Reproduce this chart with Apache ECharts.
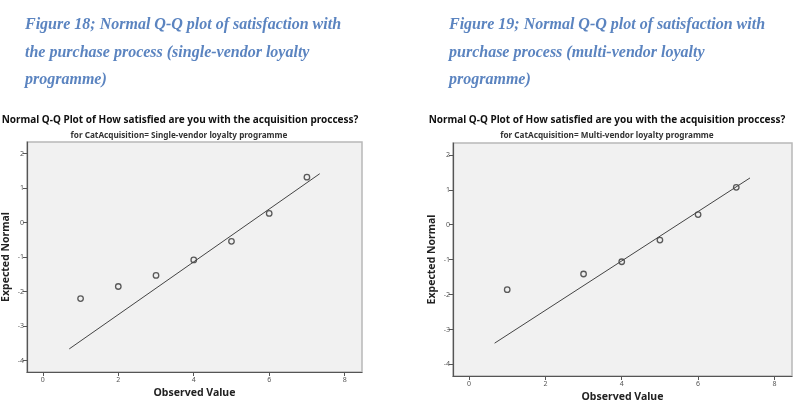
<!DOCTYPE html>
<html><head><meta charset="utf-8">
<script src="https://cdn.jsdelivr.net/npm/echarts@6/dist/echarts.min.js"></script>
<style>html,body{margin:0;padding:0;background:#fff}#c{width:797px;height:412px}</style>
</head><body><div id="c"></div>
<script>
// Data
const xTickValues = [0, 2, 4, 6, 8];
const yTickValues = [-4, -3, -2, -1, 0, 1, 2];
const singleObserved = [1, 2, 3, 4, 5, 6, 7];
const singleExpected = [-2.2, -1.85, -1.53, -1.08, -0.54, 0.27, 1.32];
const singleLineX = [0.70, 7.34];
const singleLineY = [-3.66, 1.42];
const multiObserved = [1, 3, 4, 5, 6, 7];
const multiExpected = [-1.86, -1.41, -1.06, -0.44, 0.29, 1.07];
const multiLineX = [0.67, 7.36];
const multiLineY = [-3.39, 1.34];
const captionLeft = ["Figure 18; Normal Q-Q plot of satisfaction with", "the purchase process (single-vendor loyalty", "programme)"];
const captionRight = ["Figure 19; Normal Q-Q plot of satisfaction with", "purchase process (multi-vendor loyalty", "programme)"];
const chartTitle = "Normal Q-Q Plot of How satisfied are you with the acquisition proccess?";
const subLeft = "for CatAcquisition= Single-vendor loyalty programme";
const subRight = "for CatAcquisition= Multi-vendor loyalty programme";

const chart = echarts.init(document.getElementById('c'), null, {renderer: 'canvas'});
const pair = (xs, ys) => xs.map((x, i) => [x, ys[i]]);

const grids = [
  {left: 27, top: 142, width: 335, height: 230},
  {left: 453, top: 143, width: 339, height: 233}
];

function xAxis(gi) {
  return {
    type: 'value', gridIndex: gi, min: -0.42, max: 8.46,
    name: 'Observed Value', nameLocation: 'middle', nameGap: 16,
    nameTextStyle: {fontFamily: 'Noto Sans', fontWeight: 'bold', fontSize: 10.5, color: '#222'},
    axisLine: {show: true, onZero: false, lineStyle: {color: '#555', width: 1.2}},
    axisTick: {show: true, length: 4, lineStyle: {color: '#555'}, customValues: xTickValues},
    axisLabel: {fontFamily: 'Noto Sans', fontSize: 7, color: '#555', margin: 4, customValues: xTickValues},
    splitLine: {show: false}
  };
}
function yAxis(gi) {
  return {
    type: 'value', gridIndex: gi, min: -4.33, max: 2.34,
    name: 'Expected Normal', nameLocation: 'middle', nameGap: 15, nameRotate: 90,
    nameTextStyle: {fontFamily: 'Noto Sans', fontWeight: 'bold', fontSize: 10.5, color: '#222'},
    axisLine: {show: true, onZero: false, lineStyle: {color: '#555', width: 1.2}},
    axisTick: {show: true, length: 4, lineStyle: {color: '#555'}, customValues: yTickValues},
    axisLabel: {fontFamily: 'Noto Sans', fontSize: 7, color: '#555', margin: 3, customValues: yTickValues},
    splitLine: {show: false}
  };
}

const capStyle = {fontFamily: 'Liberation Serif', fontWeight: 'bold', fontStyle: 'italic', fontSize: 16, fill: '#5b84c0'};
const graphics = [];
captionLeft.forEach((t, i) => graphics.push({type: 'text', left: 25, top: 17 + i * 27.5, style: Object.assign({text: t}, capStyle)}));
captionRight.forEach((t, i) => graphics.push({type: 'text', left: 449, top: 17 + i * 27.5, style: Object.assign({text: t}, capStyle)}));
const titleStyle = {fontFamily: 'Noto Sans', fontWeight: 'bold', fontSize: 10, fill: '#111', align: 'center', verticalAlign: 'middle'};
const subStyle = {fontFamily: 'Noto Sans', fontWeight: 'bold', fontSize: 8.2, fill: '#333', align: 'center', verticalAlign: 'middle'};
graphics.push({type: 'text', x: 180, y: 120, style: Object.assign({text: chartTitle}, titleStyle)});
graphics.push({type: 'text', x: 607, y: 120, style: Object.assign({text: chartTitle}, titleStyle)});
graphics.push({type: 'text', x: 179, y: 136, style: Object.assign({text: subLeft}, subStyle)});
graphics.push({type: 'text', x: 607, y: 136, style: Object.assign({text: subRight}, subStyle)});

const scatterStyle = {color: '#f0f0f0', borderColor: '#333', borderWidth: 1.3};

chart.setOption({
  animation: false,
  backgroundColor: '#fff',
  grid: grids.map(g => Object.assign({show: true, backgroundColor: '#f1f1f1', borderColor: '#b8b8b8', borderWidth: 1.5}, g)),
  xAxis: [xAxis(0), xAxis(1)],
  yAxis: [yAxis(0), yAxis(1)],
  graphic: graphics,
  series: [
    {type: 'line', xAxisIndex: 0, yAxisIndex: 0, data: pair(singleLineX, singleLineY), symbol: 'none', lineStyle: {color: '#444', width: 1}},
    {type: 'scatter', xAxisIndex: 0, yAxisIndex: 0, data: pair(singleObserved, singleExpected), symbol: 'circle', symbolSize: 5.5, itemStyle: scatterStyle},
    {type: 'line', xAxisIndex: 1, yAxisIndex: 1, data: pair(multiLineX, multiLineY), symbol: 'none', lineStyle: {color: '#444', width: 1}},
    {type: 'scatter', xAxisIndex: 1, yAxisIndex: 1, data: pair(multiObserved, multiExpected), symbol: 'circle', symbolSize: 5.5, itemStyle: scatterStyle}
  ]
});
</script>
</body></html>
